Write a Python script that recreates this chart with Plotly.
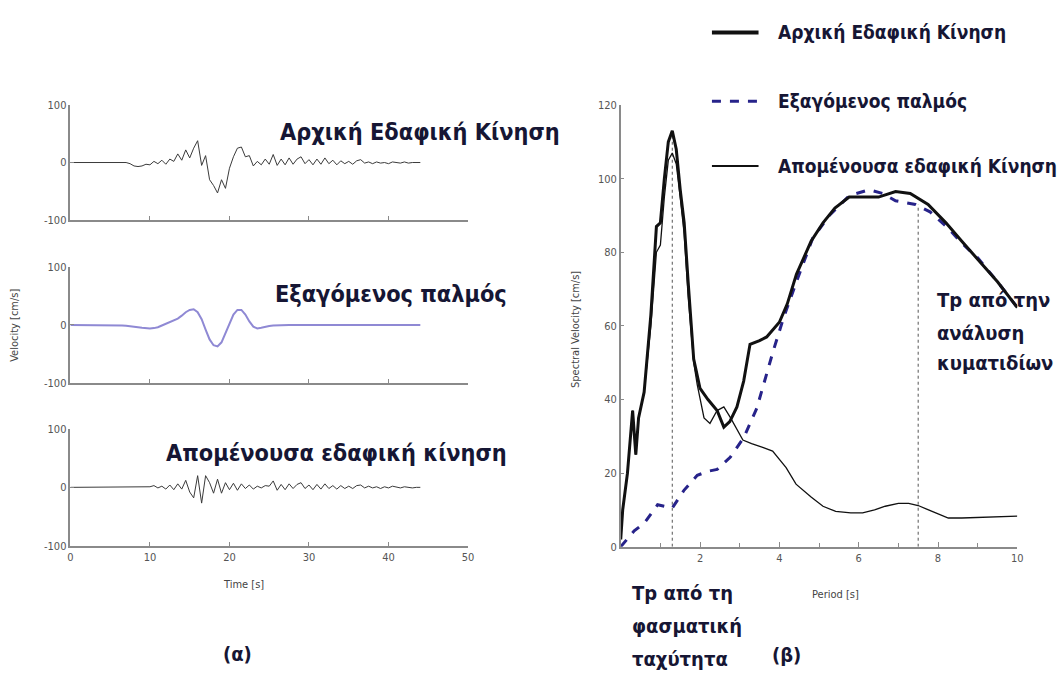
import plotly.graph_objects as go

W, H = 1062, 697

# ---------------- data: time histories (left) ----------------
time_s = [i * 0.5 for i in range(89)]  # 0 .. 44 s

original_vel = [0] * 15 + [
    -2, -6, -7, -6, -3, -4, 2, -2, 4, -3, 6, 2, 15, 4, 22, 8, 25, 38, -5, 12,
    -30, -40, -53, -30, -45, -10, 10, 25, 27, 10, 12, -6, 2, -4, 6, -3, 14, -5, 6, -4,
    8, -3, 6, 10, -2, 5, -4, 6, -3, 8, -2, 4, -4, 3, -2, 2, -3, 3, 5, -1,
    1, -2, 1, -1, 0, -2, 1, 0, -1, 1, -1, 0, 0, 0]

pulse_vel = [0] * 12 + [
    -0.5, -1, -1.5, -2, -3, -4, -5, -6, -6, -5.5, -4, -1, 2, 5, 8, 11, 16, 22, 26, 27,
    22, 10, -8, -25, -35, -37, -30, -15, 3, 18, 26, 26, 18, 6, -3, -6, -5, -3, -2, -1,
    -0.5] + [0] * 36

residual_vel = [0] * 20 + [
    1, 3, -1, 2, -3, 4, -4, 6, -3, 12, -8, -18, 20, -27, 20, 8, -10, 14, -10, 8,
    -4, 7, -5, 6, -2, 4, -3, 2, -1, 3, 2, 11, -5, 5, -4, 6, -2, 5, 8, -2,
    4, -4, 5, -3, 6, -2, 3, -3, 3, -2, 2, -2, 3, 4, -1, 2, -1, 1, -2, 1,
    -1, 2, 0, -1, 1, 0, -1, 0, 0]

time_ticks = [0, 10, 20, 30, 40, 50]
vel_ticks = [-100, 0, 100]
vel_tick_text = ["-100", "0", "100"]

# ---------------- data: spectral velocity (right) ----------------
period_orig = [0, 0.05, 0.17, 0.3, 0.38, 0.45, 0.59, 0.76, 0.9, 1.0, 1.1, 1.2, 1.3, 1.4,
               1.5, 1.6, 1.7, 1.84, 2.0, 2.2, 2.43, 2.6, 2.75, 2.93, 3.1, 3.26, 3.5, 3.68,
               4.0, 4.2, 4.43, 4.8, 5.1, 5.4, 5.76, 6.1, 6.5, 6.93, 7.3, 7.75, 8.2, 8.6,
               9.0, 9.5, 10.0]
sv_orig = [2, 10, 20, 37, 25, 35, 42, 63, 87, 88, 100, 110, 113, 108,
           97, 88, 72, 51, 43, 40, 37, 32.5, 34, 38, 45, 55, 56, 57,
           61, 66, 74, 83, 88, 92, 95, 95, 95, 96.5, 96, 93, 88, 83,
           78, 72, 65]

period_pulse = [0, 0.34, 0.6, 0.93, 1.1, 1.3, 1.6, 1.93, 2.2, 2.43, 2.76, 3.1, 3.43, 3.84,
                4.1, 4.43, 4.84, 5.26, 5.76, 6.26, 6.6, 6.93, 7.43, 7.8, 8.26, 8.6, 9.0,
                9.5, 10.0]
sv_pulse = [0, 4.3, 6.5, 11.4, 11, 10.5, 15.4, 19.4, 20.5, 21, 24.3, 29.6, 37.6, 53,
            62, 72, 83.8, 90, 95.4, 97, 96, 94, 93, 91, 86.5, 82.5, 78.5,
            72, 65]

period_resid = [0, 0.05, 0.17, 0.3, 0.38, 0.45, 0.59, 0.76, 0.9, 1.0, 1.1, 1.2, 1.3, 1.4,
                1.5, 1.6, 1.7, 1.84, 1.93, 2.1, 2.25, 2.43, 2.6, 2.77, 3.08, 3.3, 3.58,
                3.83, 4.17, 4.42, 4.8, 5.1, 5.42, 5.8, 6.1, 6.4, 6.67, 7.0, 7.26, 7.5,
                7.76, 8.0, 8.26, 8.6, 9.0, 9.5, 10.0]
sv_resid = [2, 10, 20, 37, 25, 35, 42, 60, 80, 82, 95, 105, 107, 104,
            95, 85, 68, 50, 44, 35, 33.5, 37, 38, 35, 29, 28, 27,
            26, 21.5, 17, 13.5, 11, 9.6, 9.2, 9.2, 10, 11, 11.8, 11.8, 11.2,
            10, 9, 7.8, 7.8, 7.9, 8.1, 8.3]

period_ticks = [2, 4, 6, 8, 10]
sv_ticks = [0, 20, 40, 60, 80, 100, 120]

tp_periods = [1.3, 7.5]      # Tp from spectral velocity / from wavelet analysis
tp_heights = [113, 93]

left_titles = ["Αρχική Εδαφική Κίνηση", "Εξαγόμενος παλμός", "Απομένουσα εδαφική κίνηση"]
legend_names = ["Αρχική Εδαφική Κίνηση", "Εξαγόμενος παλμός", "Απομένουσα εδαφική Κίνηση"]

# ---------------- helpers ----------------
def px(x):
    return x / W

def py(y):
    return 1 - y / H

TXT = "#161634"
AX = "#8a8a8a"
TICKF = dict(family="Liberation Sans Narrow, DejaVu Sans Condensed, Arial", size=11, color="#555")
ANNF = "Liberation Sans Narrow, DejaVu Sans Condensed, Arial"

fig = go.Figure()

fig.add_trace(go.Scatter(x=time_s, y=original_vel, mode="lines",
                         line=dict(color="#3a3a3a", width=1), xaxis="x", yaxis="y", showlegend=False))
fig.add_trace(go.Scatter(x=time_s, y=pulse_vel, mode="lines",
                         line=dict(color="#8f89d4", width=2), xaxis="x2", yaxis="y2", showlegend=False))
fig.add_trace(go.Scatter(x=time_s, y=residual_vel, mode="lines",
                         line=dict(color="#3a3a3a", width=1), xaxis="x3", yaxis="y3", showlegend=False))

# spectral
for tp, h in zip(tp_periods, tp_heights):
    fig.add_trace(go.Scatter(x=[tp, tp], y=[0, h], mode="lines",
                             line=dict(color="#555", width=1, dash="dot"),
                             xaxis="x4", yaxis="y4", showlegend=False))
fig.add_trace(go.Scatter(x=period_resid, y=sv_resid, mode="lines",
                         line=dict(color="#111", width=1.3), xaxis="x4", yaxis="y4", showlegend=False))
fig.add_trace(go.Scatter(x=period_pulse, y=sv_pulse, mode="lines",
                         line=dict(color="#27238a", width=3, dash="dash"), xaxis="x4", yaxis="y4", showlegend=False))
fig.add_trace(go.Scatter(x=period_orig, y=sv_orig, mode="lines",
                         line=dict(color="#111", width=3), xaxis="x4", yaxis="y4", showlegend=False))

left_dom = [px(68), px(469)]
panel_y = [(101, 218), (266, 384), (431, 550)]

layout = dict(
    width=W, height=H, margin=dict(l=0, r=0, t=0, b=0),
    paper_bgcolor="white", plot_bgcolor="white", showlegend=False,
)

common_x = dict(range=[0, 50], tickvals=time_ticks, ticks="inside", ticklen=4,
                tickcolor=AX, showline=True, linecolor=AX, linewidth=1.5, showgrid=False,
                zeroline=False, tickfont=TICKF)
common_y = dict(range=[-100, 100], tickvals=vel_ticks, ticktext=vel_tick_text, ticks="inside",
                ticklen=4, tickcolor=AX, showline=True, linecolor=AX, linewidth=1.5,
                showgrid=False, zeroline=False, tickfont=TICKF)

for i, (top, bot) in enumerate(panel_y):
    sfx = "" if i == 0 else str(i + 1)
    layout["xaxis" + sfx] = dict(common_x, domain=left_dom, anchor="y" + sfx,
                                 showticklabels=(i == 2))
    layout["yaxis" + sfx] = dict(common_y, domain=[py(bot), py(top)], anchor="x" + sfx)

layout["xaxis4"] = dict(range=[0, 10], tickvals=period_ticks, ticks="inside", ticklen=5,
                        tickcolor=AX, showline=True, linecolor=AX, linewidth=1.5,
                        showgrid=False, zeroline=False, tickfont=TICKF,
                        minor=dict(dtick=1, ticks="inside", ticklen=4, tickcolor=AX),
                        domain=[px(623), px(1023)], anchor="y4")
layout["yaxis4"] = dict(range=[0, 120], tickvals=sv_ticks, ticks="inside",
                        ticklen=4, tickcolor=AX, showline=True, linecolor=AX, linewidth=1.5,
                        showgrid=False, zeroline=False, tickfont=TICKF,
                        domain=[py(551), py(101)], anchor="x4")

fig.update_layout(**layout)

ann = []
def add_text(text, x, y, size, xanchor="left", angle=0, color=TXT, family=ANNF, weight="bold"):
    ann.append(dict(text=text, x=px(x), y=py(y), xref="paper", yref="paper",
                    xanchor=xanchor, yanchor="middle", showarrow=False, textangle=angle,
                    font=dict(family=family, size=size, color=color, weight=weight)))

add_text(left_titles[0], 277, 128, 23.3)
add_text(left_titles[1], 272, 293, 23.3)
add_text(left_titles[2], 162, 455, 23.3)

add_text("Velocity [cm/s]", 12, 325, 11, xanchor="center", angle=-90, color="#444", weight="normal")
add_text("Time [s]", 243, 590, 11, xanchor="center", color="#444", weight="normal")
add_text("Spectral Velocity [cm/s]", 578, 330, 11, xanchor="center", angle=-90, color="#444", weight="normal")
add_text("Period [s]", 840, 600, 11, xanchor="center", color="#444", weight="normal")

for txt, yy in zip(["Τp από την", "ανάλυση", "κυματιδίων"], [300, 333, 364]):
    add_text(txt, 940, yy, 20)
for txt, yy in zip(["Τp από τη", "φασματική", "ταχύτητα"], [598, 632, 665]):
    add_text(txt, 632, yy, 20)

add_text("(α)", 237, 660, 20, xanchor="center")
add_text("(β)", 790, 661, 20, xanchor="center")

legend_y = [27, 97, 163]
for name, yy in zip(legend_names, legend_y):
    add_text(name, 780, yy, 19)

shapes = [
    dict(type="line", xref="paper", yref="paper", x0=px(715), x1=px(762), y0=py(27), y1=py(27),
         line=dict(color="#111", width=4)),
    dict(type="line", xref="paper", yref="paper", x0=px(715), x1=px(762), y0=py(97), y1=py(97),
         line=dict(color="#27238a", width=3, dash="dash")),
    dict(type="line", xref="paper", yref="paper", x0=px(715), x1=px(762), y0=py(163), y1=py(163),
         line=dict(color="#111", width=2)),
]

fig.update_layout(annotations=ann, shapes=shapes)
fig.write_html("out.html")
